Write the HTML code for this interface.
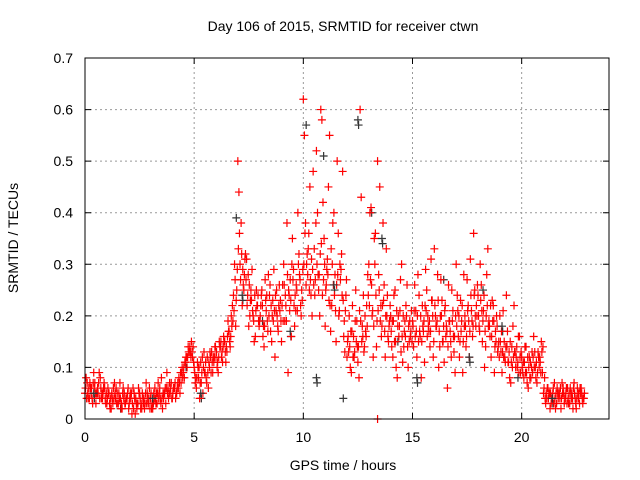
<!DOCTYPE html>
<html><head><meta charset="utf-8"><style>
body{margin:0;background:#fff}
svg{display:block;font-family:"Liberation Sans",sans-serif}
</style></head><body>
<svg id="c" width="640" height="480">
<text x="343" y="31" font-size="14" text-anchor="middle">Day 106 of 2015, SRMTID for receiver ctwn</text>
<text x="343" y="470" font-size="14" text-anchor="middle">GPS time / hours</text>
<text transform="translate(18,238) rotate(-90)" font-size="14" text-anchor="middle">SRMTID / TECUs</text>
<g id="grid"></g>
<g id="ticks"></g>
<g id="black"></g>
<g id="red"></g>
<g id="black2"></g>
<rect x="85" y="58" width="524" height="361" fill="none" stroke="#000" stroke-width="1"/>
</svg>
<script>
const xTicks=[0,5,10,15,20];
const yTicks=[0,0.1,0.2,0.3,0.4,0.5,0.6,0.7];
const yTickLabels=["0","0.1","0.2","0.3","0.4","0.5","0.6","0.7"];
const redA=[.05,.07,.04,.06,.09,.03,.05,.08,.04,.06,
.03,.05,.02,.06,.04,.03,.07,.02,.05,.04,
.02,.04,.06,.01,.03,.05,.02,.04,.07,.03,
.04,.02,.06,.03,.05,.08,.04,.03,.06,.05,
.04,.06,.05,.08,.07,.09,.11,.12,.14,.13,
.10,.06,.08,.11,.05,.09,.12,.10,.13,.11,
.12,.09,.14,.11,.15,.13,.17,.20,.24,.18,
.50,.30,.22,.28,.31,.18,.25,.20,.16,.22,
.19,.25,.14,.21,.28,.17,.23,.12,.20,.26,
.15,.30,.22,.09,.27,.35,.18,.25,.32,.20,
.62,.38,.28,.45,.20,.33,.52,.25,.60,.42,
.18,.31,.55,.22,.40,.15,.36,.27,.48,.13,
.12,.20,.09,.16,.25,.11,.60,.18,.14,.22,
.30,.41,.12,.36,.50,.45,.18,.26,.33,.15,
.20,.12,.25,.08,.18,.30,.14,.22,.10,.16,
.19,.26,.12,.24,.08,.17,.29,.20,.14,.23,
.33,.18,.10,.27,.15,.22,.06,.19,.25,.13,
.30,.16,.23,.09,.20,.27,.12,.21,.36,.18,
.24,.30,.15,.10,.28,.19,.12,.22,.17,.13,
.20,.09,.15,.24,.11,.07,.18,.13,.10,.16,
.12,.08,.14,.06,.11,.09,.13,.07,.10,.15,
.05,.03,.06,.02,.04,.07,.03,.05,.02,.06,
.04,.06,.03,.05,.07,.02,.04,.05,.03];
const redB=[.08,.04,.06,.03,.07,.05,.09,.04,.06,.03,
.06,.02,.04,.07,.03,.05,.02,.06,.03,.05,
.04,.01,.05,.03,.06,.02,.04,.03,.05,.06,
.02,.05,.03,.07,.04,.02,.05,.09,.05,.07,
.06,.04,.07,.05,.10,.08,.12,.13,.12,.14,
.07,.11,.04,.09,.13,.08,.06,.12,.09,.14,
.10,.15,.12,.16,.11,.19,.14,.22,.30,.25,
.44,.38,.26,.32,.24,.20,.29,.15,.25,.19,
.22,.16,.27,.19,.24,.15,.29,.21,.17,.23,
.26,.19,.38,.24,.16,.29,.21,.40,.27,.23,
.55,.30,.36,.24,.48,.27,.40,.20,.58,.35,
.26,.45,.17,.38,.28,.50,.21,.32,.16,.24,
.16,.10,.22,.13,.19,.08,.43,.24,.17,.28,
.40,.20,.35,.14,.28,.22,.38,.12,.24,.19,
.14,.24,.10,.20,.27,.11,.19,.26,.15,.21,
.14,.21,.28,.16,.22,.11,.25,.17,.31,.12,
.20,.28,.14,.23,.11,.18,.26,.15,.21,.09,
.24,.12,.19,.28,.14,.22,.31,.16,.25,.20,
.18,.26,.21,.14,.33,.16,.23,.09,.20,.15,
.13,.21,.11,.17,.08,.14,.22,.12,.16,.09,
.09,.14,.07,.12,.10,.16,.08,.13,.11,.09,
.08,.04,.05,.03,.06,.02,.05,.04,.07,.03,
.06,.03,.05,.02,.04,.06,.03,.05,.04];
const redC=[.06,.05,.07,.04,.06,.05,.07,.06,.05,.04,
.04,.03,.05,.04,.06,.03,.04,.05,.03,.04,
.03,.05,.02,.04,.03,.04,.05,.02,.03,.04,
.05,.03,.04,.05,.06,.04,.05,.06,.04,.06,
.05,.07,.06,.07,.09,.10,.12,.14,.13,.12,
.09,.08,.10,.07,.10,.11,.09,.13,.11,.12,
.13,.12,.15,.14,.13,.16,.15,.18,.21,.23,
.33,.27,.29,.31,.22,.26,.23,.19,.21,.24,
.20,.22,.18,.24,.20,.22,.19,.24,.18,.21,
.22,.26,.19,.25,.23,.27,.24,.21,.28,.25,
.30,.26,.33,.27,.29,.24,.30,.28,.34,.27,
.25,.28,.22,.30,.24,.26,.20,.29,.23,.21,
.15,.14,.17,.12,.15,.14,.19,.16,.20,.18,
.22,.26,.18,.24,.21,.19,.22,.17,.20,.18,
.17,.19,.15,.18,.21,.16,.17,.20,.18,.17,
.18,.16,.20,.17,.15,.19,.21,.18,.17,.20,
.22,.19,.17,.20,.18,.16,.14,.17,.19,.16,
.18,.20,.17,.15,.18,.21,.17,.19,.24,.22,
.20,.23,.19,.17,.22,.18,.16,.19,.15,.14,
.15,.13,.12,.14,.13,.11,.12,.10,.11,.12,
.10,.11,.09,.10,.08,.12,.10,.09,.12,.13,
.06,.05,.04,.05,.05,.04,.06,.05,.04,.05,
.05,.04,.06,.04,.05,.04,.05,.06,.04];
const redD=[.04,.06,.05,.07,.05,.06,.04,.05,.07,.05,
.05,.04,.03,.05,.05,.04,.03,.04,.04,.06,
.05,.03,.04,.02,.05,.03,.03,.05,.04,.02,
.03,.04,.05,.04,.03,.05,.06,.05,.07,.04,
.06,.05,.06,.09,.08,.11,.10,.13,.15,.11,
.08,.10,.07,.12,.09,.07,.11,.09,.12,.14,
.11,.14,.13,.15,.14,.17,.16,.19,.27,.29,
.36,.32,.25,.27,.28,.23,.21,.24,.22,.18,
.24,.18,.23,.17,.26,.20,.21,.25,.22,.19,
.19,.24,.28,.21,.30,.22,.26,.30,.22,.29,
.36,.32,.25,.31,.26,.38,.28,.32,.24,.30,
.29,.23,.33,.26,.21,.28,.30,.24,.19,.27,
.13,.17,.12,.19,.14,.21,.15,.13,.16,.24,
.27,.21,.30,.19,.25,.16,.23,.20,.16,.22,
.19,.15,.21,.16,.13,.20,.16,.14,.19,.15,
.21,.17,.15,.20,.18,.22,.16,.19,.23,.15,
.18,.23,.20,.15,.21,.17,.19,.12,.16,.20,
.21,.15,.22,.18,.16,.19,.24,.18,.20,.26,
.17,.21,.24,.20,.18,.22,.19,.14,.18,.12,
.17,.12,.14,.11,.15,.10,.13,.14,.09,.13,
.11,.09,.12,.08,.13,.10,.11,.12,.09,.14,
.04,.06,.05,.04,.03,.05,.04,.06,.05,.04,
.03,.05,.04,.06,.03,.05,.06,.04,.05];
const blackT=[0.4,1.6,3.1,4.6,5.3,6.9,7.2,8.1,9.4,10.1,10.6,10.9,11.4,11.8,12.5,13.1,13.6,14.3,15.2,16.4,17.6,18.2,19.1,19.8,21.4,22.3];
const blackV=[.05,.03,.04,.11,.05,.40,.24,.20,.17,.58,.08,.52,.26,.05,.58,.41,.35,.16,.08,.28,.12,.26,.18,.09,.04,.05];
const ns="http://www.w3.org/2000/svg";
const X0=85,X1=609,Y0=419,Y1=58,XMAX=24,YMAX=0.7;
const xs=v=>X0+v/XMAX*(X1-X0);
const ys=v=>Y0-v/YMAX*(Y0-Y1);
const grid=document.getElementById('grid'),ticks=document.getElementById('ticks');
function mk(tag,a,parent){const e=document.createElementNS(ns,tag);for(const k in a)e.setAttribute(k,a[k]);parent.appendChild(e);return e;}
xTicks.forEach(t=>{const x=xs(t);
 if(t>0){const g=mk('line',{x1:x,x2:x,y1:Y0,y2:Y1,stroke:'#999','stroke-dasharray':'2,3'},grid);
 
 }
 mk('path',{d:`M${x} ${Y0}v-6M${x} ${Y1}v6`,stroke:'#000'},ticks);
 const l=mk('text',{x:x,y:442,'font-size':14,'text-anchor':'middle'},ticks);l.textContent=t;
 
 });
yTicks.forEach((t,i)=>{const y=ys(t);
 if(i>0&&i<yTicks.length-1){const g=mk('line',{x1:X0,x2:X1,y1:y,y2:y,stroke:'#999','stroke-dasharray':'2,3'},grid);
 
 }
 mk('path',{d:`M${X0} ${y}h6M${X1} ${y}h-6`,stroke:'#000'},ticks);
 const l=mk('text',{x:73,y:y+5,'font-size':14,'text-anchor':'end'},ticks);l.textContent=yTickLabels[i];
 
 });
function plus(t,v,col,g){const x=xs(t),y=ys(v);
 const p=mk('path',{d:`M${x-4} ${y}h8M${x} ${y-4}v8`,stroke:col,'stroke-width':1.2},g);
 
 }
const red=document.getElementById('red'),black=document.getElementById('black'),black2=document.getElementById('black2');
blackT.forEach((t,i)=>plus(t+0.03,blackV[i]-0.01,'#333',black));
redA.forEach((v,i)=>plus(i*0.1,v,'#f00',red));
redB.forEach((v,i)=>plus(i*0.1+0.05,v,'#f00',red));
redC.forEach((v,i)=>plus(i*0.1+0.025,v,'#f00',red));
redD.forEach((v,i)=>plus(i*0.1+0.075,v,'#f00',red));
plus(13.4,0,'#f00',red);
blackT.forEach((t,i)=>{if(i%2===0)plus(t,blackV[i],'#333',black2);});
</script>
</body></html>
